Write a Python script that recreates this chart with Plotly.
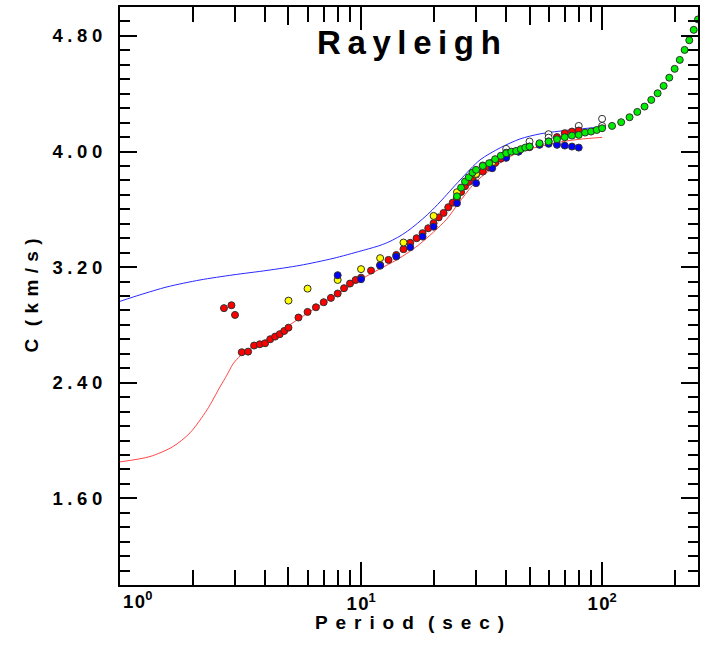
import math
import plotly.graph_objects as go

# ---------------- data ----------------
# theoretical dispersion curves
t_curve_red = [1.0, 1.332, 1.659, 1.952, 2.296, 2.599, 2.780, 2.944, 3.149, 3.365, 3.703, 4.074, 5.583, 7.651,
               10.59, 14.51, 17.57, 22.53, 25.26, 28.88, 31.17, 36.67, 42.73, 50.25, 59.13, 68.89, 81.0, 100.0]
c_curve_red = [1.852, 1.889, 1.958, 2.053, 2.212, 2.371, 2.454, 2.530, 2.585, 2.627, 2.662, 2.696, 2.848, 2.994,
               3.139, 3.264, 3.361, 3.527, 3.637, 3.762, 3.817, 3.907, 3.976, 4.018, 4.046, 4.069, 4.085, 4.098]

t_curve_blue = [1.0, 1.211, 1.567, 2.148, 2.944, 4.074, 5.583, 7.651, 10.0, 11.99, 13.19, 14.51, 15.97, 17.57,
                19.33, 21.27, 25.76, 31.17, 37.75, 45.68, 55.30, 73.66, 100.0]
c_curve_blue = [2.963, 3.008, 3.063, 3.111, 3.146, 3.177, 3.212, 3.260, 3.312, 3.350, 3.378, 3.415, 3.462, 3.518,
                3.580, 3.651, 3.803, 3.942, 4.025, 4.087, 4.122, 4.149, 4.170]

# observed dispersion points
t_red = [2.7, 2.9, 3.0, 3.2, 3.4, 3.6, 3.8, 4.0, 4.2, 4.4, 4.6, 4.8, 5.0, 5.5, 6.0, 6.5, 7.0, 7.5, 8.0, 8.5, 9.0, 9.5, 10,
         11, 12, 13, 14, 15, 16, 17, 18, 19, 20, 21, 22, 23, 24, 25, 26, 27, 28, 29, 30, 32, 34, 36, 38, 40, 45,
         50, 55, 60, 65, 70, 75, 80]
c_red = [2.916, 2.936, 2.869, 2.611, 2.615, 2.657, 2.666, 2.673, 2.701, 2.719, 2.736, 2.758, 2.781, 2.851, 2.890, 2.922,
         2.957, 2.987, 3.017, 3.054, 3.086, 3.111, 3.127, 3.176, 3.215, 3.250, 3.284, 3.324, 3.368, 3.400, 3.435,
         3.469, 3.504, 3.544, 3.575, 3.614, 3.646, 3.680, 3.720, 3.760, 3.790, 3.820, 3.840, 3.861, 3.890, 3.920,
         3.950, 3.970, 4.000, 4.030, 4.050, 4.070, 4.100, 4.127, 4.138, 4.145]

t_yellow = [5, 6, 8, 10, 12, 15, 20, 25, 30, 35, 40]
c_yellow = [2.968, 3.051, 3.111, 3.186, 3.262, 3.370, 3.554, 3.718, 3.845, 3.923, 3.992]

t_blue = [8, 10, 12, 14, 16, 18, 20, 25, 30, 35, 40, 45, 50, 55, 60, 65, 70, 75, 80]
c_blue = [3.144, 3.116, 3.210, 3.273, 3.338, 3.411, 3.480, 3.642, 3.781, 3.884, 3.956, 3.999, 4.034, 4.046,
          4.053, 4.046, 4.041, 4.034, 4.027]

t_white = [32, 40, 50, 60, 60, 80, 80, 100, 100]
c_white = [3.903, 4.018, 4.069, 4.120, 4.096, 4.177, 4.142, 4.226, 4.177]

t_green = [25, 26, 27, 28, 29, 30, 32, 34, 36, 38, 40, 42, 44, 46, 48, 50, 55, 60, 65, 70, 75, 80, 85, 90, 95,
           100, 110, 120, 130, 140, 150, 160, 170, 180, 190, 200, 210, 220, 230, 240, 250]
c_green = [3.690, 3.750, 3.792, 3.822, 3.854, 3.873, 3.900, 3.919, 3.947, 3.970, 3.988, 3.999, 4.004, 4.016,
           4.027, 4.034, 4.057, 4.069, 4.085, 4.099, 4.110, 4.115, 4.131, 4.138, 4.149, 4.161, 4.177, 4.203,
           4.237, 4.274, 4.311, 4.357, 4.403, 4.454, 4.511, 4.572, 4.634, 4.703, 4.770, 4.842, 4.914]

y_major = [1.6, 2.4, 3.2, 4.0, 4.8]
y_major_text = ["1.60", "2.40", "3.20", "4.00", "4.80"]
y_minor = [round(1.1 + 0.1 * i, 1) for i in range(39)]
x_major = [1, 10, 100]
x_major_text = ["", "1\u200a0<sup>1</sup>", "1\u200a0<sup>2</sup>"]
x_mid = [5, 50]
x_minor = [2, 3, 4, 6, 7, 8, 9, 20, 30, 40, 60, 70, 80, 90, 200]

# ---------------- helpers ----------------
def spaced(s, sep):
    return sep.join(list(s))


FONT = "Liberation Sans, Arial, sans-serif"
W, H = 702, 646

fig = go.Figure()

fig.add_trace(go.Scatter(x=t_curve_blue, y=c_curve_blue, mode="lines",
                         line=dict(color="rgb(40,40,255)", width=1, shape="spline", smoothing=0.8), hoverinfo="skip"))
fig.add_trace(go.Scatter(x=t_curve_red, y=c_curve_red, mode="lines",
                         line=dict(color="rgb(255,70,70)", width=1, shape="spline", smoothing=0.8), hoverinfo="skip"))

mk_line = dict(color="#303030", width=1)
fig.add_trace(go.Scatter(x=t_white, y=c_white, mode="markers", marker=dict(size=7, color="white", line=mk_line)))
fig.add_trace(go.Scatter(x=t_red, y=c_red, mode="markers", marker=dict(size=7, color="#ff0000", line=mk_line)))
fig.add_trace(go.Scatter(x=t_yellow, y=c_yellow, mode="markers", marker=dict(size=7, color="#ffff00", line=mk_line)))
fig.add_trace(go.Scatter(x=t_blue, y=c_blue, mode="markers", marker=dict(size=7, color="#0000ff", line=mk_line)))
fig.add_trace(go.Scatter(x=t_green, y=c_green, mode="markers", marker=dict(size=7, color="#00ee00", line=mk_line)))

xr = [0, math.log10(250)]
tickfont = dict(family=FONT, size=18.5, color="black", weight="bold")
common = dict(showgrid=False, zeroline=False, automargin=False, tickcolor="black")

fig.update_layout(
    width=W, height=H, autosize=False,
    margin=dict(l=120, r=4, t=7, b=61),
    paper_bgcolor="white", plot_bgcolor="white",
    showlegend=False,
    xaxis=dict(type="log", range=xr, autorange=False, **common,
               showline=True, linewidth=2, linecolor="black", mirror="ticks",
               ticks="inside", tickvals=x_mid, ticklen=18, tickwidth=1.5,
               showticklabels=False,
               minor=dict(tickvals=x_minor, ticks="inside", ticklen=15, tickwidth=1.5, tickcolor="black", showgrid=False)),
    xaxis2=dict(type="log", range=xr, autorange=False, overlaying="x", anchor="y", side="bottom", **common,
                showline=True, linewidth=2, linecolor="black", mirror="ticks",
                ticks="inside", tickvals=x_major, ticktext=x_major_text, ticklen=23, tickwidth=2,
                tickfont=tickfont, ticklabelstandoff=1),
    xaxis3=dict(type="log", range=xr, autorange=False, overlaying="x", anchor="y", side="top", **common,
                showline=False, ticks="inside", tickvals=x_minor, ticklen=15, tickwidth=1.5,
                showticklabels=False),
    yaxis=dict(range=[1, 5], autorange=False, **common,
               showline=True, linewidth=2, linecolor="black", mirror="ticks",
               ticks="inside", tickvals=y_major, ticktext=[spaced(s, "\u2005") for s in y_major_text],
               ticklen=17, tickwidth=2, tickfont=tickfont, ticklabelstandoff=12,
               minor=dict(tickvals=y_minor, ticks="inside", ticklen=10,
                          tickwidth=1.5, tickcolor="black", showgrid=False)),
    yaxis2=dict(range=[1, 5], autorange=False, overlaying="y", anchor="x", side="right", **common,
                showline=False, ticks="inside", tickvals=y_minor, ticklen=10, tickwidth=1.5,
                showticklabels=False),
)

# invisible anchor traces so the overlay axes render
fig.add_trace(go.Scatter(x=[1], y=[0], xaxis="x2", mode="markers", marker=dict(size=1, opacity=0), hoverinfo="skip"))
fig.add_trace(go.Scatter(x=[1], y=[0], xaxis="x3", yaxis="y2", mode="markers", marker=dict(size=1, opacity=0), hoverinfo="skip"))

fig.add_annotation(text="1\u200a0<sup>0</sup>", x=0, xref="x", y=0, yref="paper", xanchor="left", yanchor="top",
                   xshift=1, yshift=-1, showarrow=False, font=tickfont)

fig.add_annotation(text=spaced("Rayleigh", "\u2009"), x=0.5, xref="paper", y=0.938, yref="paper",
                   xanchor="center", yanchor="middle", showarrow=False,
                   font=dict(family=FONT, size=33, color="black", weight="bold"))

LS = "\u2004\u200a"
fig.add_annotation(text=spaced("Period", LS) + LS + "\u2004" + spaced("(sec)", LS),
                   x=0.5, xref="paper", y=-0.065, yref="paper", xanchor="center", yanchor="middle",
                   showarrow=False, font=dict(family=FONT, size=19, color="black", weight="bold"))

fig.add_annotation(text=spaced("C", "\u2004") + "\u2004\u2004" + spaced("(km/s)", "\u2004"),
                   x=-0.1548, xref="paper", y=0.5, yref="paper", xanchor="center", yanchor="middle",
                   textangle=-90, showarrow=False,
                   font=dict(family=FONT, size=19, color="black", weight="bold"))

post = (
    "document.documentElement.style.margin='0';document.body.style.margin='0';"
    "document.body.style.padding='0';document.documentElement.style.overflow='hidden';"
    "document.body.style.overflow='hidden';"
    "var gd=document.getElementById('{plot_id}');"
    "Plotly.relayout(gd,{width:%d,height:%d});" % (W, H)
)

fig.write_html("out.html", config={"responsive": False, "displayModeBar": False}, post_script=post)
